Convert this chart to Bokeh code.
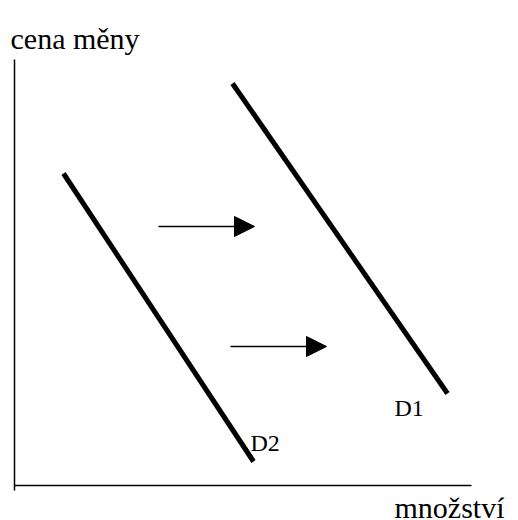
from bokeh.plotting import figure
from bokeh.models import Range1d, Arrow, NormalHead
from bokeh.core.properties import value
from bokeh.embed import file_html
from bokeh.resources import INLINE

# Demand curves (quantity, price) endpoints
d2_q = [49, 239]
d2_p = [312, 24]
d1_q = [218, 433]
d1_p = [402, 92]

# Shift arrows
arrow_q_start = [144, 216]
arrow_q_end = [240, 312]
arrow_p = [259, 139]

# Axes extents
axis_v_q = [0, 0]
axis_v_p = [-5, 426]
axis_h_q = [0, 457]
axis_h_p = [0, 0]

# Labels
curve_labels = ["D1", "D2"]
curve_label_q = [380, 236]
curve_label_p = [78, 43]
axis_titles = ["cena měny", "množství"]
axis_title_q = [-4, 380]
axis_title_p = [447, -22]

p = figure(width=518, height=520, output_backend="svg", toolbar_location=None,
           x_range=Range1d(-14, 504), y_range=Range1d(-35, 485),
           min_border=0, outline_line_color=None)
p.axis.visible = False
p.grid.visible = False
p.background_fill_color = "white"

font = value("Liberation Serif")

p.line(axis_v_q, axis_v_p, line_color="black", line_width=1.5)
p.line(axis_h_q, axis_h_p, line_color="black", line_width=1.5)

p.line(d2_q, d2_p, line_color="black", line_width=5)
p.line(d1_q, d1_p, line_color="black", line_width=5)

for xs, xe, y in zip(arrow_q_start, arrow_q_end, arrow_p):
    p.add_layout(Arrow(x_start=xs, y_start=y, x_end=xe, y_end=y,
                       line_color="black", line_width=1.5,
                       end=NormalHead(size=20, fill_color="black", line_color="black", line_width=1)))

p.text(x=curve_label_q, y=curve_label_p, text=curve_labels, text_font=font,
       text_font_size="24px", text_baseline="alphabetic", text_align="left", text_color="black")
p.text(x=axis_title_q, y=axis_title_p, text=axis_titles, text_font=font,
       text_font_size="30px", text_baseline="alphabetic", text_align="left", text_color="black")

open("out.html", "w").write(file_html(p, INLINE))
